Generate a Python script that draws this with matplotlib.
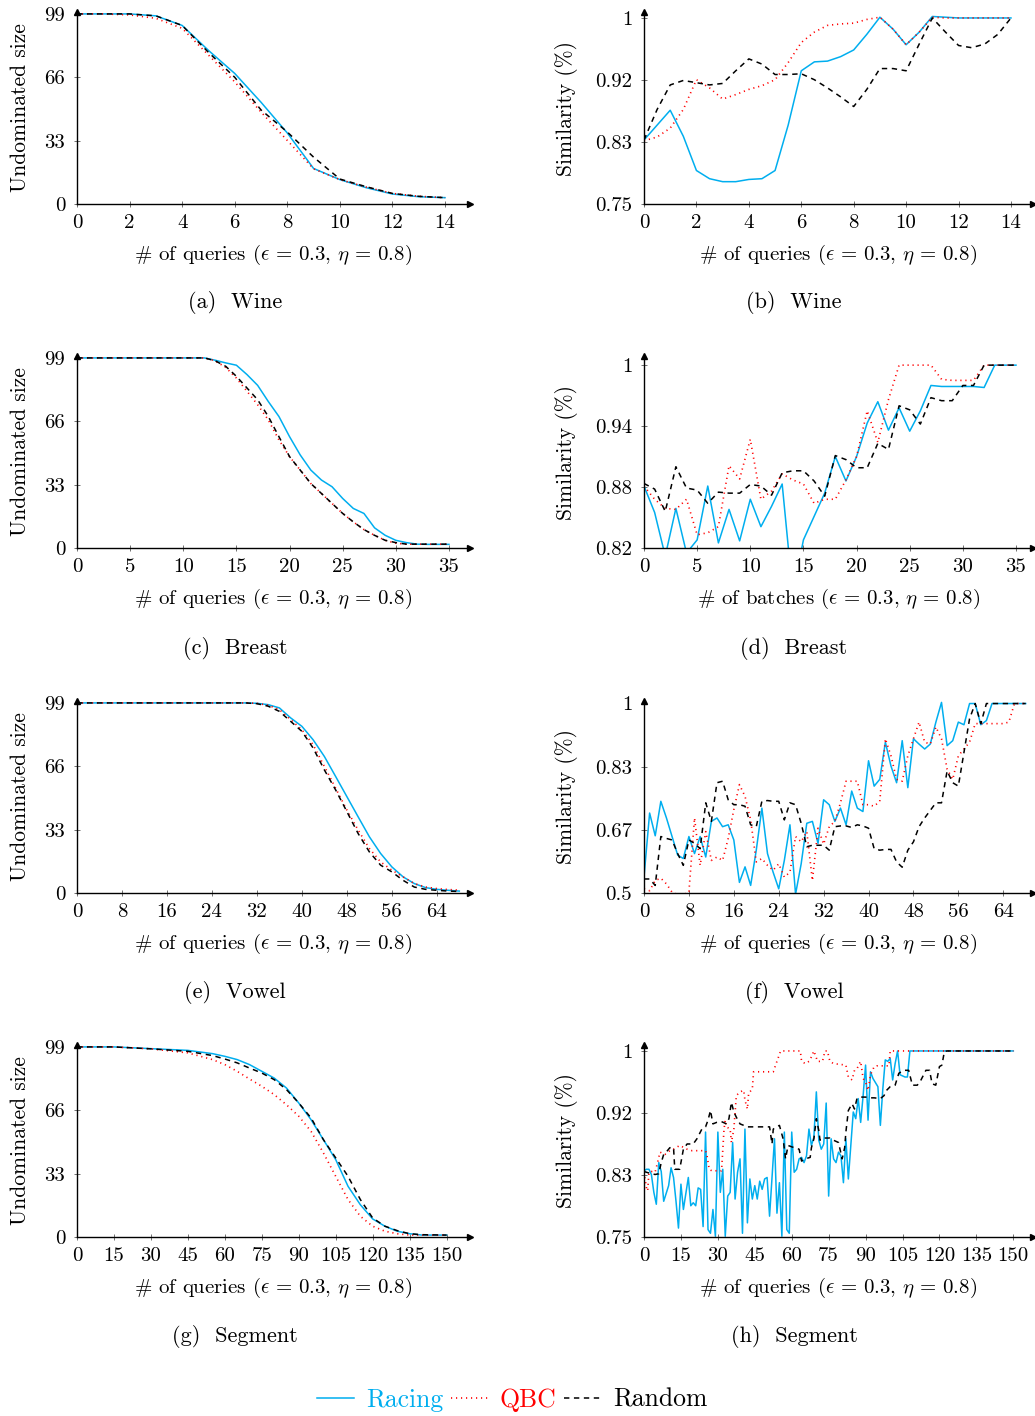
import matplotlib
matplotlib.use("Agg")
import matplotlib.pyplot as plt

plt.rcParams["font.family"] = "cmr10"
plt.rcParams["mathtext.fontset"] = "cm"
plt.rcParams["axes.unicode_minus"] = False
plt.rcParams["axes.formatter.use_mathtext"] = True

# ---------------- data ----------------
# (a) Wine, undominated size
wine_q = [0, 1, 2, 3, 4, 5, 6, 7, 8, 9, 10, 11, 12, 13, 14]
wine_und_racing = [99, 99, 99, 98, 93, 80, 68, 53, 37, 18.5, 12.7, 8.5, 5.2, 3.8, 3.3]
wine_und_qbc = [99, 99, 98.5, 96.7, 91.5, 77.6, 63.6, 47.9, 33.1, 18.3, 12.7, 8.8, 5.5, 4.0, 3.3]
wine_und_random = [99, 99, 99, 98, 93, 79, 66, 49, 37.5, 24.4, 13, 9, 5.5, 4.0, 3.3]

# (b) Wine, similarity
wine_sim_q = [0, 0.5, 1, 1.5, 2, 2.5, 3, 3.5, 4, 4.5, 5, 5.5, 6, 6.5, 7, 7.5, 8, 8.5, 9,
              9.5, 10, 10.5, 11, 11.5, 12, 12.5, 13, 13.5, 14]
wine_sim_racing = [0.836, 0.856, 0.876, 0.841, 0.795, 0.784, 0.780, 0.780, 0.783, 0.784,
                   0.795, 0.856, 0.929, 0.941, 0.942, 0.948, 0.957, 0.978, 1.001, 0.985,
                   0.964, 0.981, 1.002, 1.001, 1.0, 1.0, 1.0, 1.0, 1.0]
wine_sim_qbc = [0.835, 0.840, 0.852, 0.877, 0.917, 0.906, 0.891, 0.897, 0.904, 0.909,
                0.917, 0.940, 0.967, 0.981, 0.990, 0.992, 0.993, 0.998, 1.001, 0.985,
                0.964, 0.981, 1.001, 1.0, 1.0, 1.0, 1.0, 1.0, 1.0]
wine_sim_random = [0.836, 0.877, 0.910, 0.916, 0.913, 0.910, 0.912, 0.929, 0.945, 0.938,
                   0.924, 0.924, 0.925, 0.917, 0.906, 0.894, 0.881, 0.904, 0.932, 0.932,
                   0.929, 0.965, 1.0, 0.981, 0.963, 0.960, 0.965, 0.978, 1.0]

# (c) Breast, undominated size
breast_q = list(range(36))
breast_und_racing = [99, 99, 99, 99, 99, 99, 99, 99, 99, 99, 99, 99, 99, 97.8, 96.4, 95.2,
                     90.3, 84.7, 76.3, 68.5, 58, 48.5, 40.6, 35.4, 31.9, 25.8, 20.6, 18,
                     10.5, 6.6, 4, 2.8, 2, 1.9, 1.9, 1.9]
breast_und_qbc = [99, 99, 99, 99, 99, 99, 99, 99, 99, 99, 99, 99, 99, 97.5, 94, 88.5,
                  81.6, 74.6, 66.7, 56.3, 47.6, 40.6, 33.6, 28.4, 23.2, 18, 13.6, 9.6,
                  6.6, 4, 2.5, 2, 2, 2, 2, 2]
breast_und_random = [99, 99, 99, 99, 99, 99, 99, 99, 99, 99, 99, 99, 99, 97.5, 94.6, 89.4,
                     83.3, 77.2, 68.5, 58, 47.6, 40.6, 33.6, 28.4, 23.2, 18, 13.6, 9.6,
                     6.6, 4, 2.8, 2, 2, 2, 2, 2]

# (d) Breast, similarity (per batch)
breast_sim_racing = [0.881, 0.855, 0.812, 0.859, 0.815, 0.828, 0.881, 0.825, 0.858, 0.827,
                     0.868, 0.841, 0.861, 0.883, 0.775, 0.828, 0.851, 0.874, 0.910, 0.886,
                     0.910, 0.943, 0.964, 0.936, 0.958, 0.935, 0.955, 0.980, 0.979, 0.979,
                     0.979, 0.979, 0.978, 1.0, 1.0, 1.0]
breast_sim_qbc = [0.881, 0.868, 0.859, 0.858, 0.868, 0.833, 0.835, 0.841, 0.901, 0.888,
                  0.927, 0.868, 0.876, 0.893, 0.887, 0.883, 0.864, 0.868, 0.868, 0.887,
                  0.910, 0.955, 0.924, 0.966, 1.0, 1.0, 1.0, 1.0, 0.986, 0.985,
                  0.985, 0.985, 1.0, 1.0, 1.0, 1.0]
breast_sim_random = [0.8835, 0.878, 0.856, 0.900, 0.879, 0.877, 0.864, 0.875, 0.874, 0.874,
                     0.8825, 0.881, 0.872, 0.894, 0.896, 0.896, 0.886, 0.871, 0.911, 0.907,
                     0.899, 0.899, 0.923, 0.917, 0.960, 0.956, 0.942, 0.968, 0.965, 0.965,
                     0.980, 0.980, 1.0, 1.0, 1.0, 1.0]

# (e) Vowel, undominated size
vowel_q = [0, 2, 4, 6, 8, 10, 12, 14, 16, 18, 20, 22, 24, 26, 28, 30, 32, 34, 36, 38, 40,
           42, 44, 46, 48, 50, 52, 54, 56, 58, 60, 62, 64, 66, 68]
vowel_und_racing = [99, 99, 99, 99, 99, 99, 99, 99, 99, 99, 99, 99, 99, 99, 99, 99, 98.8,
                    98.1, 96.4, 91.2, 86.8, 79.8, 71.1, 60.7, 50.2, 39.7, 29.3, 20.6, 13.6,
                    8.4, 4.9, 2.8, 1.9, 1.4, 1.0]
vowel_und_qbc = [99, 99, 99, 99, 99, 99, 99, 99, 99, 99, 99, 99, 99, 99, 99, 99, 98.8,
                 97.8, 95.5, 90.3, 85, 77.2, 65.9, 54.6, 43.2, 32.8, 23.2, 16.2, 11.9,
                 8.4, 4.9, 3.1, 2.3, 1.8, 1.5]
vowel_und_random = [99, 99, 99, 99, 99, 99, 99, 99, 99, 99, 99, 99, 99, 99, 99, 99, 98.6,
                    97.3, 94.6, 89.4, 84.2, 75.5, 64.1, 53.7, 42.4, 31, 21.4, 14.5, 11,
                    6.6, 3.1, 1.9, 1.4, 1.0, 0.8]

# (f) Vowel, similarity
vowel_sim_q = list(range(69))
vowel_sim_racing = [0.542, 0.711, 0.651, 0.742, 0.698, 0.649, 0.600, 0.591, 0.649, 0.604,
                    0.649, 0.595, 0.689, 0.698, 0.675, 0.680, 0.640, 0.528, 0.569, 0.520,
                    0.613, 0.724, 0.604, 0.555, 0.511, 0.586, 0.680, 0.497, 0.577, 0.684,
                    0.689, 0.631, 0.746, 0.733, 0.689, 0.724, 0.680, 0.769, 0.724, 0.715,
                    0.849, 0.782, 0.800, 0.898, 0.835, 0.791, 0.902, 0.778, 0.907, 0.893,
                    0.880, 0.893, 0.951, 1.003, 0.889, 0.902, 0.951, 0.944, 1.0, 1.0,
                    0.944, 0.955, 1.0, 1.0, 1.0, 1.0, 1.0, 1.0, 1.0]
vowel_sim_qbc = [0.511, 0.506, 0.533, 0.539, 0.524, 0.502, 0.496, 0.496, 0.502, 0.698,
                 0.573, 0.662, 0.586, 0.595, 0.586, 0.644, 0.720, 0.786, 0.755, 0.693,
                 0.582, 0.591, 0.573, 0.560, 0.577, 0.542, 0.555, 0.649, 0.635, 0.662,
                 0.533, 0.671, 0.629, 0.675, 0.689, 0.738, 0.795, 0.795, 0.795, 0.733,
                 0.733, 0.729, 0.742, 0.907, 0.862, 0.800, 0.795, 0.862, 0.907, 0.951,
                 0.898, 0.893, 0.938, 0.907, 0.827, 0.800, 0.862, 0.880, 0.898, 0.947,
                 0.947, 0.947, 0.947, 0.947, 0.947, 0.951, 1.0, 1.0, 1.0]
vowel_sim_random = [0.537, 0.537, 0.520, 0.649, 0.644, 0.640, 0.604, 0.573, 0.640, 0.631,
                    0.617, 0.738, 0.689, 0.791, 0.795, 0.746, 0.733, 0.733, 0.729, 0.680,
                    0.675, 0.742, 0.744, 0.742, 0.742, 0.693, 0.738, 0.733, 0.684, 0.622,
                    0.626, 0.626, 0.626, 0.613, 0.675, 0.677, 0.677, 0.673, 0.680, 0.677,
                    0.671, 0.617, 0.613, 0.615, 0.615, 0.582, 0.568, 0.613, 0.635, 0.675,
                    0.698, 0.718, 0.738, 0.738, 0.822, 0.791, 0.782, 0.871, 0.960, 1.0,
                    0.947, 1.0, 1.0, 1.0, 1.0, 1.0, 1.0, 1.0, 1.0]

# (g) Segment, undominated size
segment_q = [0, 15, 30, 45, 55, 60, 65, 70, 75, 80, 85, 90, 95, 100, 105, 110, 115, 120,
             125, 130, 135, 140, 150]
segment_und_racing = [99, 99, 98.1, 97.2, 95.5, 94.1, 92.4, 89.8, 86.3, 82.8, 77.6, 69.8,
                      61.1, 50.7, 40.3, 26.4, 16.8, 9.4, 5.6, 3.0, 1.7, 1.0, 1.0]
segment_und_qbc = [99, 99, 98, 95.9, 92.4, 89.8, 86.3, 82.3, 78.5, 74.2, 68.9, 62.9, 55,
                   43.8, 31.6, 19.5, 10.8, 5.6, 3.0, 1.7, 1.0, 1.0, 1.0]
segment_und_random = [99, 99, 98, 96.7, 94.5, 92.7, 90.7, 88, 85.4, 82, 76.8, 69.8, 62,
                      50.7, 41.2, 31.6, 19.5, 9.9, 5.6, 3.3, 1.7, 1.2, 1.0]

# (h) Segment, similarity
seg_racing_q = [0, 1, 2, 3, 4, 5, 6, 7, 8, 10, 11, 12, 13, 14, 15, 16, 18, 19, 20, 21, 22,
                23, 24, 25, 26, 27, 28, 29, 30, 31, 32, 33, 34, 35, 36, 37, 38, 39, 40, 41,
                42, 43, 44, 45, 46, 47, 48, 49, 50, 51, 53, 54, 55, 56, 57, 58, 59, 60, 61,
                62, 63, 64, 65, 66, 67, 68, 69, 70, 71, 72, 73, 74, 75, 76, 77, 78, 79, 80,
                81, 82, 83, 85, 86, 87, 88, 89, 90, 91, 92, 93, 95, 96, 97, 98, 99, 100,
                101, 102, 103, 104, 106, 107, 108, 150]
seg_racing_sim = [0.839, 0.841, 0.841, 0.834, 0.810, 0.794, 0.850, 0.838, 0.798, 0.819,
                  0.843, 0.830, 0.798, 0.762, 0.821, 0.787, 0.830, 0.792, 0.796, 0.792,
                  0.816, 0.814, 0.764, 0.891, 0.760, 0.755, 0.787, 0.751, 0.891, 0.810,
                  0.841, 0.751, 0.805, 0.810, 0.877, 0.801, 0.837, 0.855, 0.755, 0.895,
                  0.769, 0.828, 0.801, 0.819, 0.801, 0.825, 0.814, 0.828, 0.830, 0.778,
                  0.882, 0.782, 0.823, 0.751, 0.891, 0.760, 0.755, 0.891, 0.837, 0.841,
                  0.855, 0.857, 0.850, 0.859, 0.895, 0.873, 0.884, 0.945, 0.880, 0.868,
                  0.875, 0.930, 0.805, 0.882, 0.855, 0.850, 0.864, 0.859, 0.823, 0.882,
                  0.828, 0.918, 0.909, 0.936, 0.904, 0.940, 0.981, 0.907, 0.972, 0.963,
                  0.952, 0.900, 0.949, 0.988, 0.986, 0.990, 0.961, 0.983, 1.0, 0.968,
                  0.965, 0.965, 1.0, 1.0]
seg_qbc_q = [0, 1, 1.5, 2, 3, 4.5, 5.5, 6.5, 8.5, 10.5, 12, 14.5, 17.5, 19.5, 25, 25.5,
             26.5, 27.5, 31.5, 32.5, 33, 33.5, 35, 35.5, 36.5, 37.5, 39, 40.5, 41, 42, 42.5,
             44, 44.5, 52.5, 54, 55.5, 63.5, 64, 65.5, 67, 68, 69, 70.5, 72.5, 73.5, 74.5,
             75.5, 77, 82, 83, 84.5, 85.5, 86.5, 87.5, 88, 89, 90, 91, 92, 93.5, 94.5, 99.5,
             100, 150]
seg_qbc_sim = [0.837, 0.816, 0.812, 0.837, 0.838, 0.837, 0.850, 0.864, 0.861, 0.866,
               0.868, 0.873, 0.868, 0.866, 0.866, 0.861, 0.841, 0.839, 0.839, 0.895, 0.907,
               0.898, 0.895, 0.877, 0.895, 0.940, 0.945, 0.947, 0.934, 0.922, 0.943, 0.949,
               0.972, 0.972, 0.986, 1.0, 1.0, 0.986, 0.983, 0.986, 0.992, 1.0, 0.986, 0.986,
               1.0, 1.0, 0.986, 0.983, 0.981, 0.965, 0.961, 0.974, 0.976, 0.983, 0.986,
               0.963, 0.958, 0.947, 0.968, 0.979, 0.980, 0.980, 1.0, 1.0]
seg_random_q = [0, 2, 4.5, 6, 7, 8, 9, 10.5, 12, 12.5, 14.5, 16, 17.5, 20, 21.5, 23.5, 25,
                26, 27, 28, 29.5, 31.5, 33.5, 34.5, 35.5, 36.5, 37.5, 39, 40.5, 42, 46, 51,
                52, 52.5, 55, 56.5, 57.5, 58.5, 61, 63, 64, 65.5, 67.5, 68, 69, 70, 71, 71.5,
                73, 75.5, 77, 79, 80.5, 81.5, 82, 83, 84.5, 85.5, 86.5, 88, 90, 91.5, 93.5,
                96, 97.5, 98.5, 100, 102, 103.5, 105.5, 107.5, 109, 111, 112.5, 114.5, 116,
                117, 118.5, 120, 121, 122, 123, 150]
seg_random_sim = [0.838, 0.836, 0.834, 0.835, 0.850, 0.861, 0.864, 0.870, 0.870, 0.841,
                  0.841, 0.868, 0.875, 0.875, 0.882, 0.895, 0.898, 0.907, 0.920, 0.902,
                  0.904, 0.905, 0.902, 0.909, 0.931, 0.918, 0.911, 0.902, 0.900, 0.898,
                  0.898, 0.898, 0.875, 0.895, 0.900, 0.882, 0.855, 0.873, 0.870, 0.868,
                  0.852, 0.855, 0.857, 0.870, 0.882, 0.909, 0.893, 0.880, 0.883, 0.883,
                  0.880, 0.877, 0.855, 0.870, 0.891, 0.920, 0.929, 0.922, 0.936, 0.938,
                  0.938, 0.937, 0.937, 0.936, 0.940, 0.947, 0.952, 0.954, 0.970, 0.974,
                  0.974, 0.954, 0.954, 0.961, 0.974, 0.974, 0.956, 0.954, 0.979, 0.981,
                  0.999, 1.0, 1.0]

# ---------------- style ----------------
CYAN = "#00AEEF"
RED = "#FF0000"
W, H = 1035, 1416
FS = 15
XLAB = r"# of queries ($\epsilon\,=\,0.3$, $\eta\,=\,0.8$)"

fig = plt.figure(figsize=(W / 100, H / 100), dpi=100)


def panel(left_px, axis_px, width_px, xlim, ylim):
    ax = fig.add_axes([left_px / W, 1 - axis_px / H, width_px / W, 192 / H])
    ax.set_xlim(*xlim)
    ax.set_ylim(*ylim)
    return ax


def draw(ax, xr, yr, xq, yq, xd, yd, xticks, yticks, ylabels, xlabel, ylabel, ylab_x):
    ax.plot(xr, yr, color=CYAN, lw=1.1, label="Racing")
    ax.plot(xq, yq, color=RED, lw=1.2, ls=(0, (0.7, 2.3)), label="QBC")
    ax.plot(xd, yd, color="black", lw=1.1, ls=(0, (3.5, 3)), label="Random")
    for s in ("top", "right"):
        ax.spines[s].set_visible(False)
    for s in ("left", "bottom"):
        ax.spines[s].set_linewidth(1.0)
    ax.plot(1, 0, ">", color="black", ms=4.5, transform=ax.transAxes, clip_on=False)
    ax.plot(0, 1, "^", color="black", ms=4.5, transform=ax.transAxes, clip_on=False)
    ax.set_xticks(xticks, [str(t) for t in xticks])
    ax.set_yticks(yticks, ylabels)
    ax.tick_params(direction="inout", length=5, width=0.6, color="0.35", labelsize=FS)
    ax.tick_params(axis="x", pad=5)
    ax.tick_params(axis="y", pad=6)
    ax.set_xlabel(xlabel, fontsize=FS)
    ax.xaxis.set_label_coords(0.5, -0.205)
    ax.set_ylabel(ylabel, fontsize=15.5)
    ax.yaxis.set_label_coords(ylab_x, 0.5)


rows = [204, 548, 893, 1237]
und_ticks = [0, 33, 66, 99]
und_labels = ["0", "33", "66", "99"]

ax = panel(77, rows[0], 393, (0, 14.95), (0, 100))
draw(ax, wine_q, wine_und_racing, wine_q, wine_und_qbc, wine_q, wine_und_random,
     [0, 2, 4, 6, 8, 10, 12, 14], und_ticks, und_labels, XLAB, "Undominated size", -0.12)
legend_handles = ax.get_lines()[:3]

ax = panel(644, rows[0], 389, (0, 14.84), (0.75, 1.008))
draw(ax, wine_sim_q, wine_sim_racing, wine_sim_q, wine_sim_qbc, wine_sim_q, wine_sim_random,
     [0, 2, 4, 6, 8, 10, 12, 14], [0.75, 0.8333, 0.9167, 1.0], ["0.75", "0.83", "0.92", "1"],
     XLAB, "Similarity (%)", -0.17)

ax = panel(77, rows[1], 393, (0, 36.98), (0, 100))
draw(ax, breast_q, breast_und_racing, breast_q, breast_und_qbc, breast_q, breast_und_random,
     [0, 5, 10, 15, 20, 25, 30, 35], und_ticks, und_labels, XLAB, "Undominated size", -0.12)

ax = panel(644, rows[1], 389, (0, 36.6), (0.82, 1.009))
draw(ax, breast_q, breast_sim_racing, breast_q, breast_sim_qbc, breast_q, breast_sim_random,
     [0, 5, 10, 15, 20, 25, 30, 35], [0.82, 0.88, 0.94, 1.0], ["0.82", "0.88", "0.94", "1"],
     r"# of batches ($\epsilon\,=\,0.3$, $\eta\,=\,0.8$)", "Similarity (%)", -0.17)

ax = panel(77, rows[2], 393, (0, 69.9), (0, 100))
draw(ax, vowel_q, vowel_und_racing, vowel_q, vowel_und_qbc, vowel_q, vowel_und_random,
     [0, 8, 16, 24, 32, 40, 48, 56, 64], und_ticks, und_labels, XLAB, "Undominated size", -0.12)

ax = panel(644, rows[2], 389, (0, 69.3), (0.5, 1.0067))
draw(ax, vowel_sim_q, vowel_sim_racing, vowel_sim_q, vowel_sim_qbc, vowel_sim_q,
     vowel_sim_random, [0, 8, 16, 24, 32, 40, 48, 56, 64], [0.5, 0.6667, 0.8333, 1.0],
     ["0.5", "0.67", "0.83", "1"], XLAB, "Similarity (%)", -0.17)

ax = panel(77, rows[3], 393, (0, 159.5), (0, 100))
draw(ax, segment_q, segment_und_racing, segment_q, segment_und_qbc, segment_q,
     segment_und_random, list(range(0, 151, 15)), und_ticks, und_labels, XLAB,
     "Undominated size", -0.12)

ax = panel(644, rows[3], 389, (0, 158), (0.75, 1.008))
draw(ax, seg_racing_q, seg_racing_sim, seg_qbc_q, seg_qbc_sim, seg_random_q, seg_random_sim,
     list(range(0, 151, 15)), [0.75, 0.8333, 0.9167, 1.0], ["0.75", "0.83", "0.92", "1"],
     XLAB, "Similarity (%)", -0.17)

captions = ["(a)  Wine", "(b)  Wine", "(c)  Breast", "(d)  Breast",
            "(e)  Vowel", "(f)  Vowel", "(g)  Segment", "(h)  Segment"]
cap_y = [303, 648, 992, 1337]
for i, cap in enumerate(captions):
    cx = 235 if i % 2 == 0 else 794
    fig.text(cx / W, 1 - cap_y[i // 2] / H, cap, fontsize=16, ha="center", va="center")

fig.legend(legend_handles, ["Racing", "QBC", "Random"], loc="center",
           bbox_to_anchor=(512 / W, 1 - 1400 / H), ncol=3, frameon=False,
           fontsize=18.5, labelcolor=[CYAN, RED, "black"], handlelength=1.45,
           handletextpad=0.45, columnspacing=0.3)

fig.savefig("out.png", dpi=100)
